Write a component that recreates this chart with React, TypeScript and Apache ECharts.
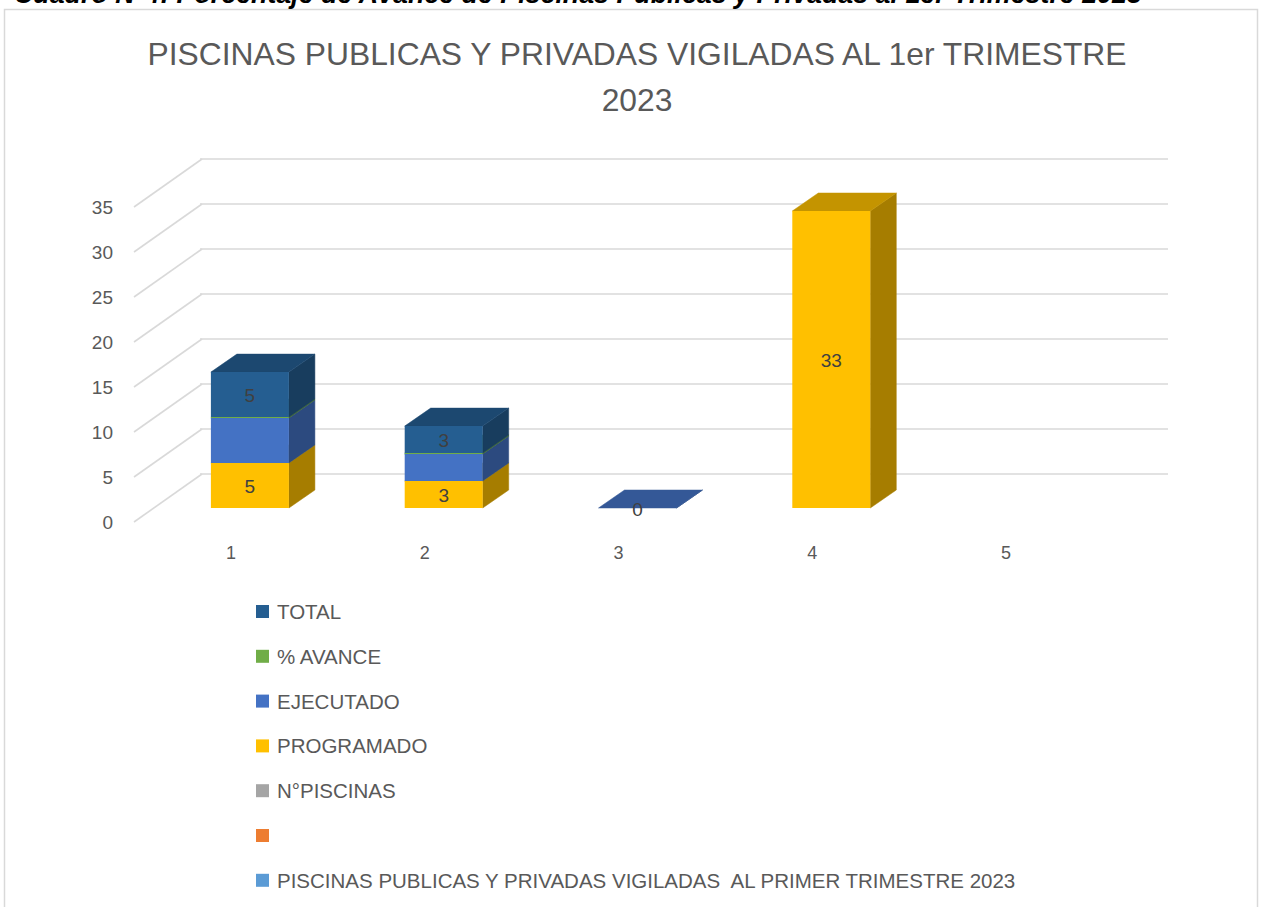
import React, { useEffect, useRef } from "react";
import * as echarts from "echarts";

// ---- data ----
const CATEGORIES = ["1", "2", "3", "4", "5"];
const PROGRAMADO: (number | null)[] = [5, 3, null, 33, null];
const EJECUTADO: (number | null)[] = [5, 3, 0, null, null];
const AVANCE: (number | null)[] = [0.1, 0.1, null, null, null];
const TOTAL: (number | null)[] = [5, 3, null, null, null];
const N_PISCINAS: (number | null)[] = [null, null, null, null, null];
const BLANK: (number | null)[] = [null, null, null, null, null];
const PISCINAS_VIGILADAS: (number | null)[] = [null, null, null, null, null];
const PROGRAMADO_LABELS = [true, true, true, true, true];
const EJECUTADO_LABELS = [false, false, true, false, false];
const AVANCE_LABELS = [false, false, false, false, false];
const TOTAL_LABELS = [true, true, true, true, true];
const Y_TICKS = [0, 5, 10, 15, 20, 25, 30, 35];
const TITLE = "PISCINAS PUBLICAS Y PRIVADAS VIGILADAS AL 1er TRIMESTRE\n2023";
const HEADER = "Cuadro N°4: Porcentaje de Avance de Piscinas Publicas y Privadas al 1er Trimestre 2023";
const LEGEND_ORDER = [
  "TOTAL",
  "% AVANCE",
  "EJECUTADO",
  "PROGRAMADO",
  "N°PISCINAS",
  " ",
  "PISCINAS PUBLICAS Y PRIVADAS VIGILADAS  AL PRIMER TRIMESTRE 2023",
];

// ---- style constants ----
const FONT = "'Liberation Sans', Arial, sans-serif";
const TEXT = "#595959";
const GRID_LINE = "#D9D9D9";
const WALL_DX = 68;
const WALL_DY = -48;
const BAR_SHIFT_X = 19;
const BAR_SHIFT_Y = -14;
const BAR_W = 78;
const BAR_DX = 26;
const BAR_DY = -18;

function shade(hex: string, f: number) {
  const n = parseInt(hex.slice(1), 16);
  const r = Math.round(((n >> 16) & 255) * f);
  const g = Math.round(((n >> 8) & 255) * f);
  const b = Math.round((n & 255) * f);
  return "rgb(" + r + "," + g + "," + b + ")";
}

function stackSeries(
  name: string,
  color: string,
  values: (number | null)[],
  bases: number[],
  labels: boolean[]
) {
  const data: any[] = [];
  values.forEach((v, i) => {
    if (v === null) return;
    data.push([i, bases[i], v, labels[i] ? 1 : 0]);
    bases[i] += v;
  });
  return {
    type: "custom",
    name,
    xAxisIndex: 0,
    yAxisIndex: 0,
    itemStyle: { color },
    clip: false,
    z: 3,
    data,
    renderItem: (params: any, api: any) => {
      const i = api.value(0);
      const base = api.value(1);
      const val = api.value(2);
      const show = api.value(3);
      const c0 = api.coord([i, base]);
      const c1 = api.coord([i, base + val]);
      const x0 = c0[0] + BAR_SHIFT_X - BAR_W / 2;
      const x1 = x0 + BAR_W;
      const yb = c0[1] + BAR_SHIFT_Y;
      const yt = c1[1] + BAR_SHIFT_Y;
      const children: any[] = [
        {
          type: "polygon",
          shape: {
            points: [
              [x1, yb],
              [x1 + BAR_DX, yb + BAR_DY],
              [x1 + BAR_DX, yt + BAR_DY],
              [x1, yt],
            ],
          },
          style: { fill: shade(color, 0.65), stroke: shade(color, 0.65), lineWidth: 0.5 },
        },
        {
          type: "polygon",
          shape: {
            points: [
              [x0, yt],
              [x1, yt],
              [x1 + BAR_DX, yt + BAR_DY],
              [x0 + BAR_DX, yt + BAR_DY],
            ],
          },
          style: { fill: shade(color, 0.77), stroke: shade(color, 0.77), lineWidth: 0.5 },
        },
        {
          type: "rect",
          shape: { x: x0, y: yt, width: BAR_W, height: Math.max(yb - yt, 0.01) },
          style: { fill: color },
        },
      ];
      if (show) {
        children.push({
          type: "text",
          x: (x0 + x1) / 2,
          y: (yb + yt) / 2 + 1,
          style: {
            text: String(val),
            fill: "#404040",
            font: "19px " + FONT,
            align: "center",
            verticalAlign: "middle",
          },
          z2: 10,
        });
      }
      return { type: "group", children };
    },
  };
}

function legendOnly(name: string, color: string, values: (number | null)[]) {
  return {
    type: "custom",
    name,
    itemStyle: { color },
    xAxisIndex: 0,
    yAxisIndex: 0,
    data: values.filter((v) => v !== null).map((v, i) => [i, v]),
    renderItem: () => ({ type: "group", children: [] }),
  };
}

export default function App() {
  const ref = useRef<HTMLDivElement>(null);
  useEffect(() => {
    if (!ref.current) return;
    const chart = echarts.init(ref.current, undefined, { renderer: "svg" });
    const bases = CATEGORIES.map(() => 0);
    const option: any = {
      animation: false,
      backgroundColor: "#ffffff",
      textStyle: { fontFamily: FONT },
      title: {
        text: TITLE,
        left: 632,
        top: 26,
        textAlign: "center",
        textStyle: {
          fontFamily: FONT,
          fontSize: 31.8,
          fontWeight: "normal",
          color: TEXT,
          lineHeight: 46,
        },
      },
      graphic: [
        {
          type: "rect",
          shape: { x: 4.5, y: 9.5, width: 1253, height: 920 },
          style: { fill: "none", stroke: GRID_LINE, lineWidth: 1.5 },
          silent: true,
        },
        {
          type: "text",
          x: 14,
          y: 7,
          style: {
            text: HEADER,
            font: "italic bold 26.8px 'Liberation Sans'",
            fill: "#000000",
            align: "left",
            verticalAlign: "bottom",
          },
        },
      ],
      legend: {
        orient: "vertical",
        left: 256,
        top: 601,
        padding: 0,
        icon: "rect",
        itemWidth: 13,
        itemHeight: 13,
        itemGap: 23.8,
        selectedMode: false,
        data: LEGEND_ORDER,
        textStyle: {
          color: TEXT,
          fontSize: 20.5,
          fontFamily: FONT,
          lineHeight: 19,
          padding: [0, 0, 0, 3],
        },
      },
      grid: [
        { left: 134, right: 159, top: 207, bottom: 385 },
        { left: 200, right: 94, top: 159, bottom: 433 },
      ],
      xAxis: [
        {
          type: "category",
          gridIndex: 0,
          data: CATEGORIES,
          axisLine: { show: false },
          axisTick: { show: false },
          axisLabel: { color: TEXT, fontSize: 18, fontFamily: FONT, margin: 22 },
          splitLine: { show: false },
        },
        { type: "category", gridIndex: 1, data: CATEGORIES, show: false },
      ],
      yAxis: [
        {
          type: "value",
          gridIndex: 0,
          min: 0,
          max: 35,
          interval: 5,
          axisLine: { show: false },
          axisTick: { show: false },
          splitLine: { show: false },
          axisLabel: { color: TEXT, fontSize: 19, fontFamily: FONT, margin: 21 },
        },
        {
          type: "value",
          gridIndex: 1,
          min: 0,
          max: 35,
          interval: 5,
          axisLine: { show: false },
          axisTick: { show: false },
          axisLabel: { show: false },
          splitLine: { show: true, lineStyle: { color: GRID_LINE, width: 1.6 } },
        },
      ],
      series: [
        {
          type: "custom",
          name: "wall",
          xAxisIndex: 0,
          yAxisIndex: 0,
          clip: false,
          silent: true,
          z: 1,
          data: Y_TICKS.map((v) => [0, v]),
          renderItem: (params: any, api: any) => {
            const c = api.coord([0, api.value(1)]);
            const left = c[0] - api.size([1, 0])[0] / 2;
            return {
              type: "line",
              shape: { x1: left, y1: c[1], x2: left + WALL_DX, y2: c[1] + WALL_DY },
              style: { stroke: GRID_LINE, lineWidth: 1.6 },
            };
          },
        },
        stackSeries("PROGRAMADO", "#FFC000", PROGRAMADO, bases, PROGRAMADO_LABELS),
        stackSeries("EJECUTADO", "#4472C4", EJECUTADO, bases, EJECUTADO_LABELS),
        stackSeries("% AVANCE", "#70AD47", AVANCE, bases, AVANCE_LABELS),
        stackSeries("TOTAL", "#255E91", TOTAL, bases, TOTAL_LABELS),
        legendOnly("N°PISCINAS", "#A5A5A5", N_PISCINAS),
        legendOnly(" ", "#ED7D31", BLANK),
        legendOnly(LEGEND_ORDER[6], "#5B9BD5", PISCINAS_VIGILADAS),
      ],
    };
    chart.setOption(option);
    return () => chart.dispose();
  }, []);
  return (
    <div
      ref={ref}
      style={{ position: "fixed", left: 0, top: 0, width: 1262, height: 907 }}
    />
  );
}
